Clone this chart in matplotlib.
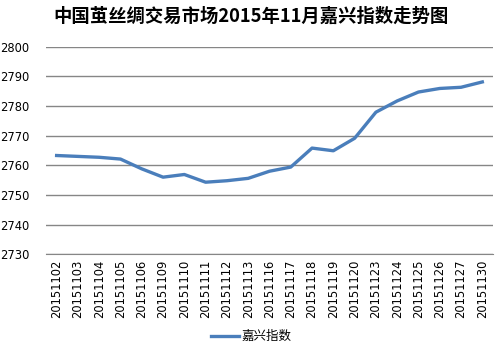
import matplotlib
matplotlib.use("Agg")
import matplotlib.pyplot as plt

plt.rcParams['font.family'] = ['Noto Sans CJK SC', 'DejaVu Sans']

title = "中国茧丝绸交易市场2015年11月嘉兴指数走势图"
series_name = "嘉兴指数"
dates = ["20151102", "20151103", "20151104", "20151105", "20151106", "20151109",
         "20151110", "20151111", "20151112", "20151113", "20151116", "20151117",
         "20151118", "20151119", "20151120", "20151123", "20151124", "20151125",
         "20151126", "20151127", "20151130"]
values = [2763.3, 2763.0, 2762.7, 2762.1, 2758.8, 2756.0, 2756.9, 2754.3, 2754.8,
          2755.6, 2758.0, 2759.4, 2765.8, 2764.9, 2769.1, 2777.9, 2781.7, 2784.7,
          2785.9, 2786.3, 2788.1]
yticks = [2730, 2740, 2750, 2760, 2770, 2780, 2790, 2800]

fig = plt.figure(figsize=(5.02, 3.56), dpi=100)
ax = fig.add_axes([0.0916, 0.2857, 0.8904, 0.5833])

x = list(range(len(dates)))
ax.plot(x, values, color='#4A7EBB', linewidth=2.4, label=series_name,
        solid_joinstyle='round', zorder=3)
ax.set_xlim(-0.5, len(dates) - 0.5)
ax.set_ylim(2730, 2800)
ax.set_yticks(yticks)
ax.set_yticklabels([str(v) for v in yticks], fontsize=8.3, family=['DejaVu Sans'])
ax.set_xticks(x)
ax.set_xticklabels(dates, rotation=90, fontsize=8.3, family=['DejaVu Sans'])
ax.tick_params(axis='both', length=0, pad=4)
ax.tick_params(axis='y', pad=12)
ax.grid(axis='y', color='#868686', linewidth=1)
for s in ax.spines.values():
    s.set_visible(False)
ax.spines['bottom'].set_visible(True)
ax.spines['bottom'].set_color('#868686')

fig.text(0.5, 0.953, title, ha='center', va='center', fontsize=13.2, fontweight='bold')
fig.legend(loc='center', bbox_to_anchor=(0.5, 0.055), frameon=False, fontsize=9,
           handlelength=2.2, handletextpad=0.2)

fig.savefig("out.png", dpi=100)
